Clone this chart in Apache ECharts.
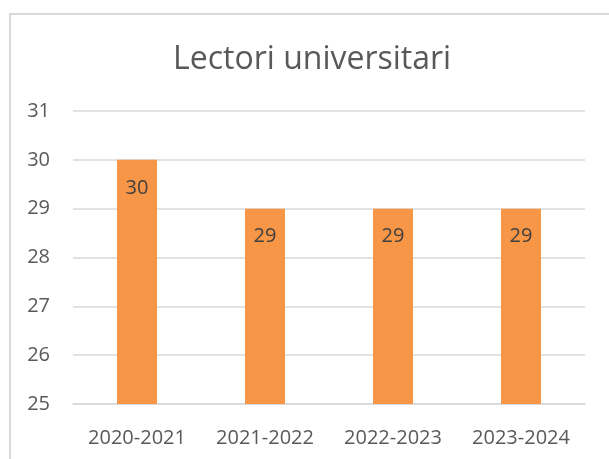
<!DOCTYPE html>
<html lang="ro">

<head>
    <meta charset="UTF-8">
    <title>Lectori universitari</title>
    <style>
        * {
            margin: 0;
            padding: 0;
        }

        body {
            background: #fff;
            overflow: hidden;
        }

        .frame {
            position: absolute;
            left: 9px;
            top: 13px;
            width: 640px;
            height: 480px;
            border: 2px solid #d9d9d9;
        }

        #chart {
            position: absolute;
            left: 0;
            top: 0;
            width: 609px;
            height: 459px;
        }
    </style>
</head>

<body>
    <div class="frame"></div>
    <div id="chart"></div>
</body>

</html>
<script src="https://cdn.jsdelivr.net/npm/echarts@6/dist/echarts.min.js"></script>
<script>
    const years = ['2020-2021', '2021-2022', '2022-2023', '2023-2024'];
    const lectori = [30, 29, 29, 29];
    const yMin = 25, yMax = 31;

    var myChart = echarts.init(document.getElementById('chart'));

    myChart.setOption({
        animation: false,
        title: {
            text: 'Lectori universitari',
            left: 168,
            top: 39,
            textStyle: {
                fontFamily: 'Open Sans',
                fontSize: 32,
                fontWeight: 'normal',
                color: '#595959'
            }
        },
        grid: {
            left: 73,
            right: 24,
            top: 111,
            bottom: 55
        },
        xAxis: {
            type: 'category',
            data: years,
            axisLine: { lineStyle: { color: '#d9d9d9', width: 1.5 } },
            axisTick: { show: false },
            axisLabel: {
                margin: 24,
                fontFamily: 'Open Sans',
                fontSize: 20,
                color: '#595959'
            }
        },
        yAxis: {
            type: 'value',
            min: yMin,
            max: yMax,
            interval: 1,
            axisLine: { show: false },
            axisTick: { show: false },
            splitLine: { lineStyle: { color: '#d9d9d9', width: 1.5 } },
            axisLabel: {
                margin: 23,
                fontFamily: 'Open Sans',
                fontSize: 20,
                color: '#595959'
            }
        },
        series: [{
            name: 'Lectori',
            type: 'bar',
            data: lectori,
            barWidth: 40,
            itemStyle: { color: '#f79646' },
            label: {
                show: true,
                position: 'insideTop',
                distance: 18,
                fontFamily: 'Open Sans',
                fontSize: 20,
                color: '#404040'
            }
        }]
    });
</script>
